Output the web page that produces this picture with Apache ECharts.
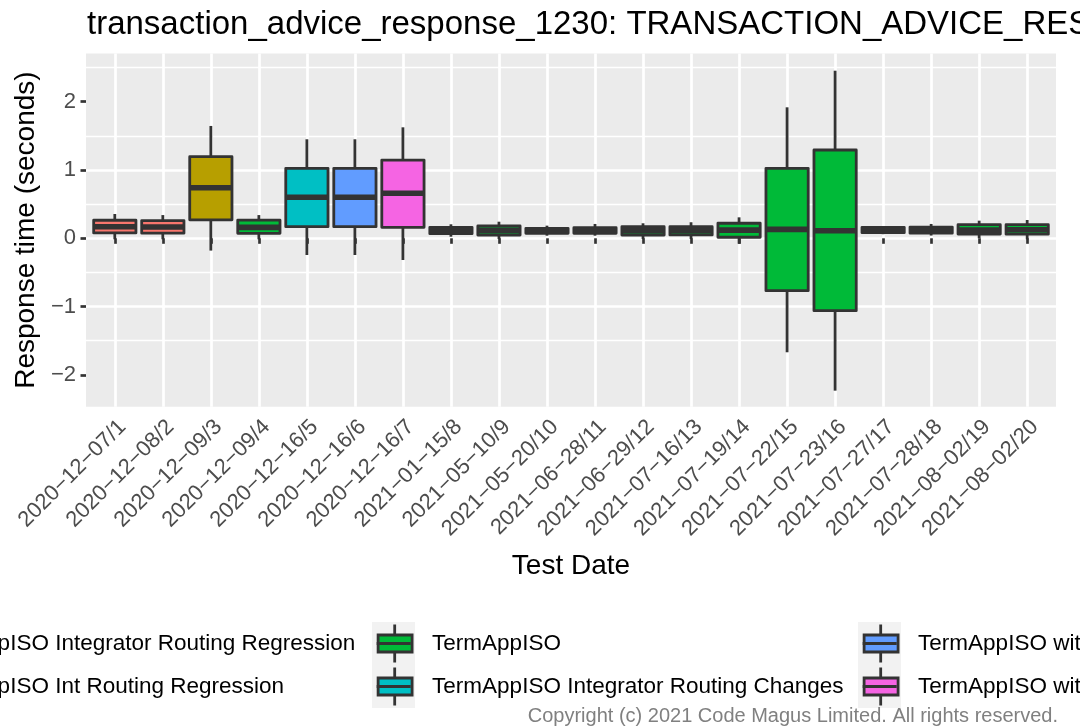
<!DOCTYPE html>
<html><head><meta charset="utf-8">
<script src="https://cdn.jsdelivr.net/npm/echarts@6/dist/echarts.min.js"></script>
<style>html,body{margin:0;padding:0;background:#fff}#c{width:1080px;height:727px}</style>
</head><body><div id="c"></div>
<script>
const categories = ["2020-12-07/1","2020-12-08/2","2020-12-09/3","2020-12-09/4","2020-12-16/5","2020-12-16/6","2020-12-16/7","2021-01-15/8","2021-05-10/9","2021-05-20/10","2021-06-28/11","2021-06-29/12","2021-07-16/13","2021-07-19/14","2021-07-22/15","2021-07-23/16","2021-07-27/17","2021-07-28/18","2021-08-02/19","2021-08-02/20"];
const groupNames = ["TermAppISO Integrator Routing Regression","TermAppISO Int Routing Regression","TermAppISO","TermAppISO Integrator Routing Changes","TermAppISO with Integrator Routing Changes","TermAppISO with Int Routing Changes"];
const groupColors = ["#F8766D","#B79F00","#00BA38","#00BFC4","#619CFF","#F564E3"];
const groupOfBox = [0,0,1,2,3,4,5,2,2,2,2,2,2,2,2,2,2,2,2,2];
const lowWhisker  = [-0.015,-0.015,-0.18,-0.015,-0.245,-0.245,-0.318,0.023,-0.01,0.038,0.038,-0.01,-0.01,-0.08,-1.669,-2.231,0.06,0.04,0.0,-0.015];
const lowerQuart  = [0.078,0.075,0.27,0.073,0.17,0.17,0.161,0.067,0.048,0.073,0.073,0.048,0.05,0.015,-0.767,-1.06,0.082,0.075,0.063,0.06];
const medians     = [0.17,0.165,0.74,0.16,0.60,0.60,0.659,0.114,0.114,0.11,0.115,0.11,0.11,0.12,0.13,0.111,0.12,0.12,0.12,0.125];
const upperQuart  = [0.264,0.26,1.195,0.265,1.025,1.025,1.146,0.161,0.18,0.146,0.155,0.17,0.17,0.22,1.025,1.293,0.161,0.165,0.2,0.2];
const highWhisker = [0.356,0.34,1.645,0.34,1.45,1.45,1.625,0.205,0.243,0.185,0.21,0.22,0.235,0.307,1.918,2.454,0.18,0.21,0.258,0.268];
const yTicks = [-2,-1,0,1,2];
const yMin = -2.466, yMax = 2.706;

const FONT = "'Liberation Sans', Arial, Helvetica, sans-serif";
const minus = s => String(s).replace(/-/g, '\u2212');
const boxData = categories.map((c, i) => [i, lowWhisker[i], lowerQuart[i], medians[i], upperQuart[i], highWhisker[i]]);

const chart = echarts.init(document.getElementById('c'), null, {renderer: 'canvas'});

const keyLefts = [-140, 372, 858];
const legends = [];
const iconPath = 'path://M16.6,0 L19.4,0 L19.4,11 L16.6,11 Z M0,17.6 L34,17.6 L34,20.4 L0,20.4 Z M16.6,27 L19.4,27 L19.4,38 L16.6,38 Z';
keyLefts.forEach((kl, c) => {
  const names = [groupNames[2*c], groupNames[2*c+1]];
  legends.push({
    left: kl, top: 622, orient: 'vertical', itemGap: 0, padding: 0, selectedMode: false,
    itemWidth: 43, itemHeight: 43, icon: 'rect',
    itemStyle: {color: '#F2F2F2', borderWidth: 0},
    formatter: () => ' ', textStyle: {fontSize: 22, lineHeight: 43, fontFamily: FONT},
    data: names
  });
  legends.push({
    left: kl + 4.7, top: 622, orient: 'vertical', itemGap: 0, padding: 0, selectedMode: false,
    itemWidth: 34, itemHeight: 17, icon: 'rect',
    itemStyle: {borderColor: '#333333', borderWidth: 2.8},
    textStyle: {fontSize: 22.5, lineHeight: 43, color: '#000', fontFamily: FONT, padding: [0,0,0,15]},
    data: names
  });
  legends.push({
    left: kl + 4.7, top: 624.5, orient: 'vertical', itemGap: 5, padding: 0, selectedMode: false,
    itemWidth: 34, itemHeight: 38, icon: iconPath,
    itemStyle: {color: '#333333', borderWidth: 0},
    formatter: () => ' ', textStyle: {fontSize: 22, lineHeight: 38, fontFamily: FONT},
    data: names
  });
});

const proxySeries = groupNames.map((n, k) => ({
  type: 'line', name: n, xAxisIndex: 1, yAxisIndex: 1, data: [],
  color: groupColors[k], itemStyle: {color: groupColors[k]}, showSymbol: false
}));

const option = {
  animation: false,
  backgroundColor: '#ffffff',
  textStyle: {fontFamily: FONT},
  title: [
    {text: 'transaction_advice_response_1230: TRANSACTION_ADVICE_RESPONSE_1230', left: 87, top: 8, padding: 0,
     textStyle: {fontSize: 33, fontWeight: 'normal', color: '#000', fontFamily: FONT}},
    {text: 'Copyright (c) 2021 Code Magus Limited. All rights reserved.', right: 22, top: 706, padding: 0,
     textStyle: {fontSize: 20, fontWeight: 'normal', color: '#808080', fontFamily: FONT}}
  ],
  legend: legends,
  grid: [
    {left: 86, right: 24, top: 53.5, bottom: 320.3, show: true, backgroundColor: '#EBEBEB', borderWidth: 0, containLabel: false},
    {left: 90.8, right: 28.8, top: 53.5, bottom: 320.3, containLabel: false}
  ],
  xAxis: [
    {gridIndex: 0, type: 'value', show: false, min: 0, max: 1},
    {gridIndex: 1, type: 'category', data: categories, boundaryGap: true,
     axisLine: {show: false},
     axisTick: {show: true, alignWithLabel: true, interval: 0, length: 5.5, lineStyle: {color: '#333333', width: 2.7}},
     axisLabel: {interval: 0, rotate: 45, formatter: v => minus(v), fontSize: 22, color: '#4D4D4D', margin: 9,
                 align: 'right', verticalAlign: 'top', fontFamily: FONT},
     splitLine: {show: true, interval: 0, alignWithLabel: true, lineStyle: {color: '#ffffff', width: 2.7}},
     name: 'Test Date', nameLocation: 'middle', nameGap: 146,
     nameTextStyle: {fontSize: 28, color: '#000', fontFamily: FONT}}
  ],
  yAxis: [
    {gridIndex: 0, type: 'value', min: yMin, max: yMax, splitNumber: 5,
     axisLine: {show: false},
     axisTick: {show: true, length: 5.5, customValues: yTicks, lineStyle: {color: '#333333', width: 2.7}},
     axisLabel: {customValues: yTicks, formatter: v => minus(v), fontSize: 22, color: '#4D4D4D', margin: 10, fontFamily: FONT},
     splitLine: {show: true, showMinLine: false, showMaxLine: false, lineStyle: {color: '#ffffff', width: 2.7}},
     minorTick: {show: false, splitNumber: 2},
     minorSplitLine: {show: true, lineStyle: {color: '#ffffff', width: 1.35}},
     name: 'Response time (seconds)', nameLocation: 'middle', nameGap: 40,
     nameTextStyle: {fontSize: 28, color: '#000', fontFamily: FONT}},
    {gridIndex: 1, type: 'value', min: yMin, max: yMax, show: false}
  ],
  series: [
    {
      type: 'custom', name: 'boxes', xAxisIndex: 1, yAxisIndex: 1, z: 5,
      data: boxData,
      encode: {x: 0, y: [1, 2, 3, 4, 5]},
      renderItem: (params, api) => {
        const i = api.value(0);
        const cx = api.coord([i, 0])[0];
        const band = api.size([1, 0])[0];
        const half = band * 0.88 / 2;
        const yLo = api.coord([i, api.value(1)])[1];
        const yQ1 = api.coord([i, api.value(2)])[1];
        const yMd = api.coord([i, api.value(3)])[1];
        const yQ3 = api.coord([i, api.value(4)])[1];
        const yHi = api.coord([i, api.value(5)])[1];
        const col = groupColors[groupOfBox[params.dataIndex]];
        const ls = {stroke: '#333333', lineWidth: 2.8};
        return {type: 'group', children: [
          {type: 'line', shape: {x1: cx, y1: yHi, x2: cx, y2: yQ3}, style: ls},
          {type: 'line', shape: {x1: cx, y1: yQ1, x2: cx, y2: yLo}, style: ls},
          {type: 'rect', shape: {x: cx - half, y: yQ3, width: 2 * half, height: yQ1 - yQ3}, style: {fill: col, stroke: '#333333', lineWidth: 2.8, lineJoin: 'round'}},
          {type: 'line', shape: {x1: cx - half, y1: yMd, x2: cx + half, y2: yMd}, style: {stroke: '#333333', lineWidth: 5.6}}
        ]};
      }
    }
  ].concat(proxySeries)
};
chart.setOption(option);
</script></body></html>
